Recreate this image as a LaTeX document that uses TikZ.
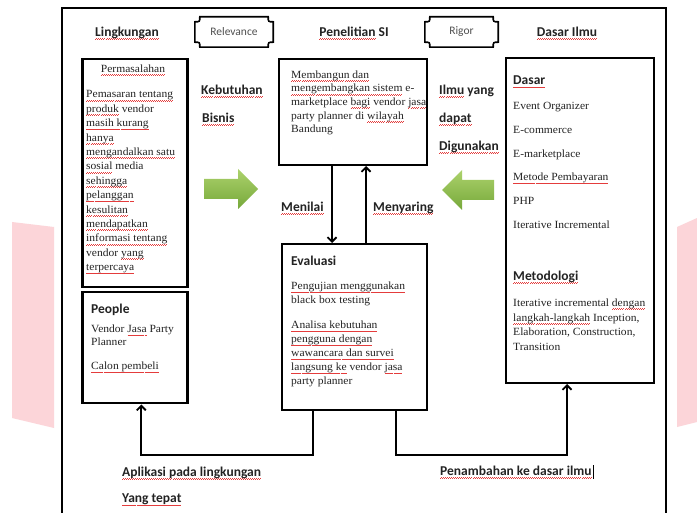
\documentclass[tikz,border=0pt]{standalone}
\usepackage{fontspec}
\usetikzlibrary{arrows.meta}
\setmainfont{Liberation Serif}[FakeStretch=1.05]
\newfontfamily\carl{Carlito}
\definecolor{sqred}{RGB}{228,60,60}
\definecolor{pinkbg}{RGB}{252,213,217}
\definecolor{txt}{RGB}{35,35,35}
\definecolor{tagtxt}{RGB}{80,80,80}
\definecolor{gtop}{RGB}{172,210,108}
\definecolor{gbot}{RGB}{118,168,58}
\newcommand\sqw[1]{\leavevmode\setbox0\hbox{#1}\rlap{\color{sqred}\hbox to\wd0{\xleaders\hbox{\rule[-3.3pt]{1pt}{0.7pt}\rule[-2.6pt]{1pt}{0.7pt}}\hfil}}\box0\relax}
\newcommand\plaque[1]{%
  \draw[line width=1.6pt]
    ([xshift=5pt]#1.north west) -- ([xshift=-5pt]#1.north east)
    .. controls ([xshift=-5pt,yshift=-5pt]#1.north east) .. ([yshift=-5pt]#1.north east)
    -- ([yshift=5pt]#1.south east)
    .. controls ([xshift=-5pt,yshift=5pt]#1.south east) .. ([xshift=-5pt]#1.south east)
    -- ([xshift=5pt]#1.south west)
    .. controls ([xshift=5pt,yshift=5pt]#1.south west) .. ([yshift=5pt]#1.south west)
    -- ([yshift=-5pt]#1.north west)
    .. controls ([xshift=5pt,yshift=-5pt]#1.north west) .. ([xshift=5pt]#1.north west) -- cycle;}
\begin{document}
\begin{tikzpicture}[x=1pt,y=-1pt,
  box/.style={draw=black, line width=2pt, inner sep=0pt, anchor=north west},
  tbox/.style={box, line width=2.5pt},
  tagn/.style={font=\carl\fontsize{11.5}{13}\selectfont, text=tagtxt, inner sep=0pt},
  hdr/.style={font=\carl\bfseries\fontsize{13.5}{16}\selectfont, text=txt, inner sep=0pt},
  body/.style={font=\fontsize{11}{14.4}\selectfont, text=txt, align=left, inner sep=0pt, anchor=north west},
  conn/.style={line width=1.8pt, -{Straight Barb[length=4.5pt,width=9pt]}},
  garrow/.style={top color=gtop, bottom color=gbot},
]
\useasboundingbox (0,0) rectangle (697,513);
\fill[white] (0,0) rectangle (697,513);
% pink background bands
\fill[pinkbg] (12,222) -- (54,227) -- (54,428) -- (12,418) -- cycle;
\fill[pinkbg] (677,227) -- (697,218) -- (697,422) -- (677,427) -- cycle;
% outer frame
\draw[line width=2pt] (62,520) -- (62,8) -- (666,8) -- (666,520);
% headers
\node[hdr] (ling) at (127,33) {\sqw{Lingkungan}};
\node[hdr] (pen) at (354,33) {\sqw{Penelitian} SI};
\node[hdr] (dil) at (567,33) {\sqw{Dasar Ilmu}};
\node[tagn, minimum width=78pt, minimum height=30pt] (rel) at (234,32) {Relevance};
\plaque{rel}
\node[tagn, minimum width=73pt, minimum height=30pt] (rig) at (461.5,32) {Rigor};
\plaque{rig}
% boxes
\node[tbox, minimum width=105pt, minimum height=228pt] (perm) at (81,58) {};
\node[tbox, minimum width=105pt, minimum height=111pt] (peo) at (81,291) {};
\node[box, minimum width=148pt, minimum height=106pt] (sis) at (278,58) {};
\node[box, minimum width=145pt, minimum height=166pt] (eva) at (281,243) {};
\node[box, minimum width=148pt, minimum height=325pt] (das) at (505,57) {};
% box texts
\node[body, anchor=center] (permh) at (133,70) {\sqw{Permasalahan}};
\node[body] (permt) at (86,90.5) {\sqw{Pemasaran tentang}\\ \sqw{produk} vendor\\ \sqw{masih kurang}\\ \sqw{hanya}\\ \sqw{mengandalkan satu}\\ \sqw{sosial} media\\ \sqw{sehingga}\\ \sqw{pelanggan}\\ \sqw{kesulitan}\\ \sqw{mendapatkan}\\ \sqw{informasi tentang}\\ vendor \sqw{yang}\\ \sqw{terpercaya}};
\node[hdr, anchor=west] (peoh) at (91,310) {People};
\node[body, font=\fontsize{11}{13}\selectfont] (peot) at (91,325) {Vendor \sqw{Jasa} Party\\ Planner\\[11pt] \sqw{Calon pembeli}};
\node[body, font=\fontsize{11}{13.6}\selectfont] (sist) at (291,70.5) {\sqw{Membangun dan}\\ \sqw{mengembangkan sistem} e-\\ marketplace \sqw{bagi} vendor \sqw{jasa}\\ party planner di \sqw{wilayah}\\ Bandung};
\node[hdr, anchor=west] (evah) at (291,261) {Evaluasi};
\node[body, font=\fontsize{11}{14}\selectfont] (evat) at (291,282) {\sqw{Pengujian menggunakan}\\ black box testing\\[11pt] \sqw{Analisa kebutuhan}\\ \sqw{pengguna dengan}\\ \sqw{wawancara dan survei}\\ \sqw{langsung ke} vendor \sqw{jasa}\\ party planner};
\node[hdr, anchor=west] (dash) at (513,82) {\sqw{Dasar}};
\node[body, font=\fontsize{11}{23.8}\selectfont] (dast) at (513,102) {Event Organizer\\ E-commerce\\ E-marketplace\\ \sqw{Metode Pembayaran}\\ PHP\\ Iterative Incremental};
\node[hdr, anchor=west] (meth) at (513,277) {\sqw{Metodologi}};
\node[body, font=\fontsize{11}{14.8}\selectfont] (metht) at (513,298.5) {Iterative incremental \sqw{dengan}\\ \sqw{langkah-langkah} Inception,\\ Elaboration, Construction,\\ Transition};
% side labels
\node[hdr, anchor=west] (keb) at (201,91) {\sqw{Kebutuhan}};
\node[hdr, anchor=west] (bis) at (202,119) {\sqw{Bisnis}};
\node[hdr, anchor=west] (ilm) at (439,91) {\sqw{Ilmu} yang};
\node[hdr, anchor=west] (dap) at (439,119) {\sqw{dapat}};
\node[hdr, anchor=west] (dig) at (439,147) {\sqw{Digunakan}};
\node[hdr, anchor=west] (men) at (281,208) {\sqw{Menilai}};
\node[hdr, anchor=west] (mny) at (373,208) {\sqw{Menyaring}};
\node[hdr, anchor=west] (apl) at (122,473) {\sqw{Aplikasi pada lingkungan}};
\node[hdr, anchor=west] (yt) at (122,500) {\sqw{Yang tepat}};
\node[hdr, anchor=west] (pnb) at (440,472) {\sqw{Penambahan ke dasar ilmu}};
\draw[line width=1pt] ([xshift=1.5pt]pnb.east) ++(0,-7) -- ++(0,14);
% green arrows
\shade[garrow] (204,179) -- (238,179) -- (238,169) -- (258,189) -- (238,209) -- (238,199) -- (204,199) -- cycle;
\shade[garrow] (494,180) -- (462,180) -- (462,170) -- (442,190) -- (462,210) -- (462,200) -- (494,200) -- cycle;
% connectors
\draw[conn] ([xshift=-21pt]sis.south) -- ([xshift=-21pt]sis.south |- eva.north);
\draw[conn] ([xshift=13pt]sis.south |- eva.north) -- ([xshift=13pt]sis.south);
\draw[conn] ([xshift=-41.5pt]eva.south) -- ++(0,44) -| ([xshift=6.5pt]peo.south);
\draw[conn] ([xshift=41.5pt]eva.south) -- ++(0,44) -| ([xshift=-13pt]das.south);
\end{tikzpicture}
\end{document}
